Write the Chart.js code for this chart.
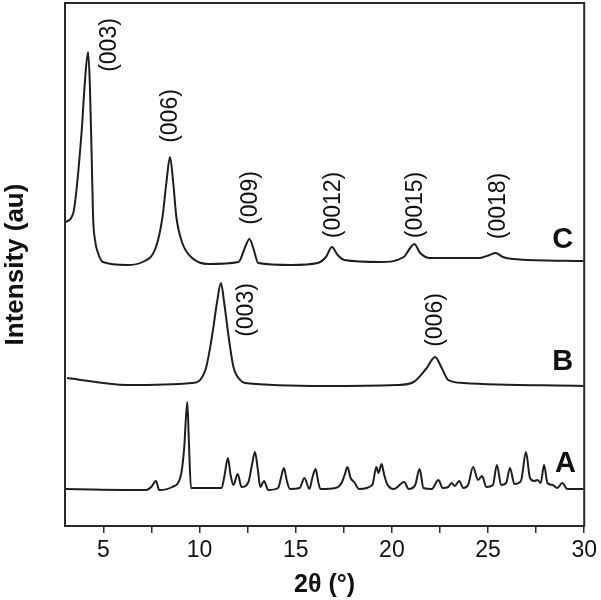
<!DOCTYPE html>
<html>
<head>
  <title>XRD patterns</title>
  <style>
    body { margin: 0; background: #fff; }
    #wrap { width: 601px; height: 600px; }
  </style>
</head>
<body>
  <div id="wrap"><canvas id="xrd" width="601" height="600"></canvas></div>

  <script src="https://cdn.jsdelivr.net/npm/chart.js"></script>
  <script>
    // 2θ (deg) and intensity (au, offsets included)
    const aTheta = [3.05,7.23,7.48,7.73,7.90,8.57,9.03,9.19,9.36,9.44,9.55,11.14,11.30,11.47,11.61,11.76,11.98,12.18,12.54,12.72,12.88,13.03,13.15,13.35,13.57,14.08,14.23,14.38,14.55,14.70,15.20,15.45,15.71,15.86,16.03,16.17,16.28,17.07,17.38,17.54,17.69,17.85,18.04,18.29,18.98,19.19,19.30,19.46,19.60,19.75,20.10,20.64,20.87,21.21,21.44,21.64,22.07,22.42,22.64,22.93,23.10,23.27,23.50,23.71,23.96,24.22,24.48,24.69,24.91,25.25,25.46,25.68,25.94,26.14,26.37,26.71,26.97,27.18,27.40,27.57,27.74,27.91,28.09,28.35,28.60,28.86,29.12,29.97];
    const aIntensity = [37,36,39,45,36,39,51,76,124,86,38,38,51,68,51,41,52,39,44,61,74,56,39,45,36,38,48,58,44,37,38,48,37,48,57,44,37,38,43,51,59,48,44,37,41,59,53,62,51,42,37,44,37,41,57,38,37,46,38,39,43,40,45,38,41,59,46,50,39,41,61,41,43,58,42,45,74,48,45,46,43,61,43,41,38,43,37,37];

    const bTheta = [3.10,6.20,9.60,10.30,10.64,10.90,11.11,11.28,11.51,11.76,12.11,12.37,16.51,20.27,21.13,21.81,22.24,22.59,22.93,23.71,29.97];
    const bIntensity = [148,141,143,156,189,223,243,223,189,159,146,143,140,141,144,158,169,158,146,143,140];

    const cTheta = [3.05,3.43,3.86,4.03,4.20,4.29,4.38,4.46,4.56,4.70,4.97,6.20,7.04,7.73,8.07,8.27,8.46,8.63,8.79,9.10,9.61,10.47,12.02,12.37,12.59,12.79,13.05,14.77,16.14,16.57,16.88,17.18,17.52,19.41,20.61,20.95,21.16,21.47,21.98,24.56,25.08,25.39,25.77,26.28,29.97];
    const cIntensity = [304,313,393,443,474,443,376,309,286,274,264,261,264,279,309,343,369,343,309,283,268,262,264,279,287,278,263,261,263,269,279,271,266,264,269,278,282,273,268,268,271,273,269,267,265];

    // peak labels
    const peakLabels = ['(003)','(006)','(009)','(0012)','(0015)','(0018)','(003)','(006)'];
    const peakLabelTheta = [5.32,8.50,12.66,16.97,21.25,25.53,12.43,22.28];
    const peakLabelIntensity = [481,410,328,321,321,320,216,206];

    // sample letters
    const sampleNames = ['A','B','C'];
    const sampleNameTheta = [29.03,28.88,28.88];
    const sampleNameIntensity = [62,164,286];

    const xTicks = [5,7.5,10,12.5,15,17.5,20,22.5,25,27.5,30];

    const toPoints = (xs, ys) => xs.map((x, i) => ({ x: x, y: ys[i] }));

    const lineStyle = {
      borderColor: '#1e1e1e',
      borderWidth: 2,
      pointRadius: 0,
      fill: false,
      cubicInterpolationMode: 'monotone'
    };

    const annotate = {
      id: 'annotate',
      afterDatasetsDraw(chart) {
        const ctx = chart.ctx;
        const xs = chart.scales.x, ys = chart.scales.y;
        const a = chart.chartArea;
        ctx.save();
        ctx.strokeStyle = '#2a2a2a';
        ctx.lineWidth = 2;
        ctx.strokeRect(a.left, a.top, a.right - a.left, a.bottom - a.top);

        ctx.fillStyle = '#111';
        ctx.textAlign = 'center';
        ctx.textBaseline = 'middle';
        ctx.font = '23px "Liberation Sans", Arial, sans-serif';
        peakLabels.forEach((t, i) => {
          ctx.save();
          ctx.translate(xs.getPixelForValue(peakLabelTheta[i]), ys.getPixelForValue(peakLabelIntensity[i]));
          ctx.rotate(-Math.PI / 2);
          ctx.fillText(t, 0, 0);
          ctx.restore();
        });

        ctx.font = 'bold 29px "Liberation Sans", Arial, sans-serif';
        sampleNames.forEach((t, i) => {
          ctx.fillText(t, xs.getPixelForValue(sampleNameTheta[i]), ys.getPixelForValue(sampleNameIntensity[i]));
        });
        ctx.restore();
      }
    };

    new Chart(document.getElementById('xrd'), {
      type: 'line',
      data: {
        datasets: [
          Object.assign({ label: 'A', data: toPoints(aTheta, aIntensity) }, lineStyle),
          Object.assign({ label: 'B', data: toPoints(bTheta, bIntensity) }, lineStyle),
          Object.assign({ label: 'C', data: toPoints(cTheta, cIntensity) }, lineStyle)
        ]
      },
      options: {
        responsive: false,
        animation: false,
        layout: { padding: { top: 3, right: 12, left: 0, bottom: 0 } },
        plugins: { legend: { display: false }, tooltip: { enabled: false } },
        scales: {
          x: {
            type: 'linear',
            min: 3,
            max: 30,
            afterBuildTicks: (s) => { s.ticks = xTicks.map(v => ({ value: v })); },
            afterFit: (s) => { s.height = 74; },
            border: { display: false },
            grid: { drawOnChartArea: false, tickLength: 7, color: '#2a2a2a', lineWidth: 1.5 },
            ticks: {
              color: '#111',
              padding: 4,
              maxRotation: 0,
              autoSkip: false,
              font: { family: '"Liberation Sans", Arial, sans-serif', size: 23 },
              callback: (v) => (v % 5 === 0 ? v : '')
            },
            title: {
              display: true,
              text: '2θ (°)',
              color: '#111',
              padding: { top: 0, bottom: 0 },
              font: { family: '"Liberation Sans", Arial, sans-serif', size: 25, weight: 'bold' }
            }
          },
          y: {
            min: 0,
            max: 523,
            afterFit: (s) => { s.width = 65; },
            border: { display: false },
            grid: { display: false },
            ticks: { display: false },
            title: {
              display: true,
              text: 'Intensity (au)',
              color: '#111',
              padding: { top: 0, bottom: 0 },
              font: { family: '"Liberation Sans", Arial, sans-serif', size: 26, weight: 'bold' }
            }
          }
        }
      },
      plugins: [annotate]
    });
  </script>
</body>
</html>
